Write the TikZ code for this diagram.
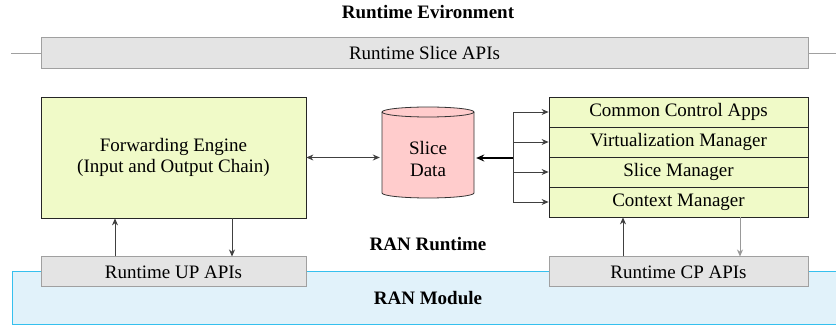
\documentclass[tikz,border=0pt]{standalone}
\usepackage{fontspec}
\setmainfont{Liberation Serif}
\usetikzlibrary{arrows.meta}
\definecolor{fegreen}{HTML}{F0FAC8}
\definecolor{slicepink}{HTML}{FFCCCC}
\definecolor{modfill}{HTML}{E1F2FA}
\definecolor{modline}{HTML}{35C0EE}
\definecolor{apigray}{HTML}{E4E4E4}
\definecolor{apiline}{HTML}{A0A0A0}
\begin{document}
\begin{tikzpicture}[x=1pt,y=-1pt,
  font=\fontsize{19}{21.5}\selectfont,
  greenbox/.style={draw=black!85, fill=fegreen, line width=0.8pt, inner sep=0pt, align=center},
  apibox/.style={draw=apiline, fill=apigray, line width=1pt, inner sep=0pt},
  arr/.style={-{Stealth[length=7pt,width=6pt]}, draw=black!75, line width=0.8pt},
  lightarr/.style={-{Stealth[length=7pt,width=6pt]}, draw=black!40, line width=0.8pt},
  cylstyle/.style={draw=black!80, fill=slicepink, line width=0.8pt},
  heading/.style={font=\fontsize{19}{21.5}\selectfont\bfseries}]
\useasboundingbox (0,0) rectangle (836,331);

% RAN module region
\fill[modfill] (12,272) rectangle (836,325);
\draw[modline, line width=1pt] (836,272) -| (12,325) -- (836,325);
\node[heading] (ranmod) at (428,298) {RAN Module};

% title
\node[heading] (title) at (428,12) {Runtime Evironment};

% slice APIs bar with line
\coordinate (ll) at (11,53.5);
\coordinate (lr) at (836,53.5);
\draw[apiline, line width=1pt] (ll) -- (lr);
\node[apibox, minimum width=767pt, minimum height=31pt] (sapi) at (424.5,53.5) {Runtime Slice APIs};

% forwarding engine
\node[greenbox, minimum width=265pt, minimum height=121pt] (fe) at (173.5,157.5)
  {Forwarding Engine\\(Input and Output Chain)};

% slice data (cylinder)
\node[inner sep=0pt, minimum width=92pt, minimum height=91pt] (cyl) at (428,152.5) {};
\path[cylstyle] (382,112) -- (382,193)
  arc[start angle=180, end angle=360, x radius=46pt, y radius=5pt]
  -- (474,112)
  arc[start angle=0, end angle=180, x radius=46pt, y radius=5pt] -- cycle;
\draw[cylstyle, fill=none] (382,112) arc[start angle=180, end angle=360, x radius=46pt, y radius=5pt];
\node[align=center, inner sep=0pt] (cyltext) at (428,159) {Slice\\Data};

% control stack
\node[greenbox, minimum width=259pt, minimum height=30pt] (cca) at (678.5,112) {Common Control Apps};
\node[greenbox, minimum width=259pt, minimum height=30pt] (vm) at (678.5,142) {Virtualization Manager};
\node[greenbox, minimum width=259pt, minimum height=30pt] (sm) at (678.5,172) {Slice Manager};
\node[greenbox, minimum width=259pt, minimum height=30pt] (cm) at (678.5,202) {Context Manager};

\node[heading] (ranrt) at (428,244) {RAN Runtime};

% API boxes
\node[apibox, minimum width=265pt, minimum height=30pt] (up) at (173.5,272) {Runtime UP APIs};
\node[apibox, minimum width=259pt, minimum height=30pt] (cp) at (678.5,272) {Runtime CP APIs};

% connectors
\draw[arr, {Stealth[length=7pt,width=6pt]}-{Stealth[length=7pt,width=6pt]}] (fe.east) -- ([xshift=-2pt]fe.east -| cyl.west);
\coordinate (br) at (513,158);
\draw[-{Stealth[length=8pt,width=7pt]}, line width=1.6pt] (br) -- ([xshift=2pt]br -| cyl.east);
\draw[arr] (br) |- (cca.west);
\draw[arr] (br) |- (vm.west);
\draw[arr] (br) |- (sm.west);
\draw[arr] (br) |- (cm.west);

\draw[arr] ([xshift=-58.5pt]up.north) -- ([xshift=-58.5pt]fe.south);
\draw[arr] ([xshift=58.5pt]fe.south) -- ([xshift=58.5pt]up.north);
\draw[arr] ([xshift=-55.5pt]cp.north) -- ([xshift=-55.5pt]cm.south);
\draw[lightarr] ([xshift=61.5pt]cm.south) -- ([xshift=61.5pt]cp.north);
\end{tikzpicture}
\end{document}
